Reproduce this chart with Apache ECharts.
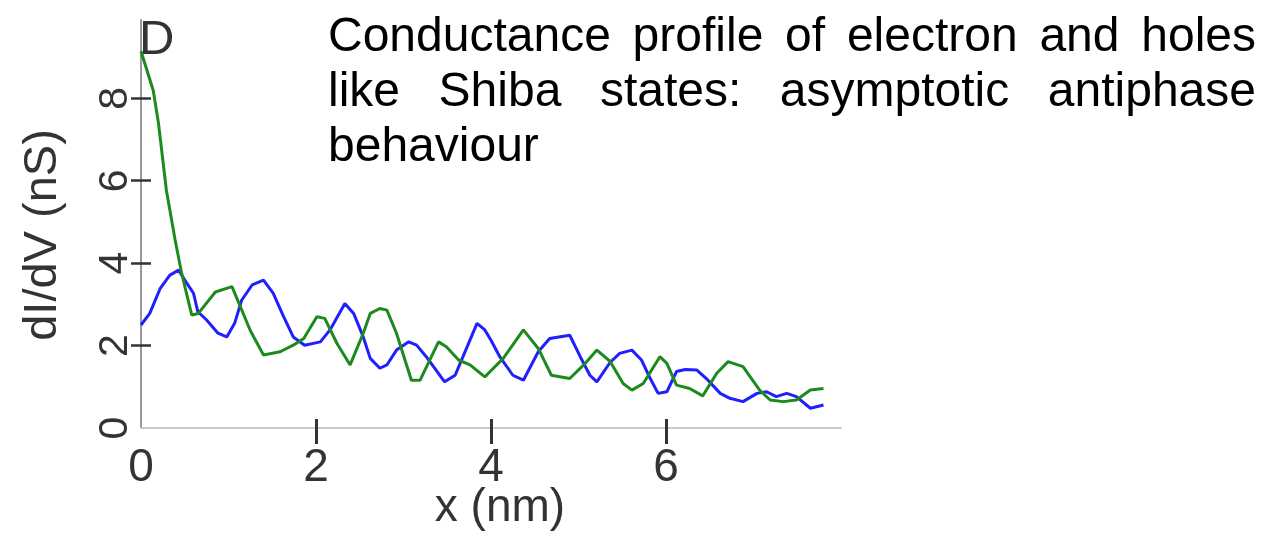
<!DOCTYPE html>
<html>
<head>
<meta charset="utf-8">
<script src="https://cdn.jsdelivr.net/npm/echarts@6/dist/echarts.min.js"></script>
<style>
html,body{margin:0;padding:0;background:#fff}
#chart{width:1264px;height:535px}
</style>
</head>
<body>
<div id="chart"></div>
<script>
// green curve (hole-like)
const greenX = [0,0.14,0.2,0.29,0.39,0.465,0.58,0.655,0.85,1.04,1.25,1.4,1.59,1.74,1.86,2.01,2.1,2.24,2.39,2.54,2.62,2.73,2.81,2.92,3.09,3.19,3.4,3.49,3.63,3.76,3.93,3.99,4.14,4.37,4.54,4.69,4.9,5.06,5.21,5.36,5.51,5.61,5.74,5.93,6.01,6.12,6.27,6.42,6.58,6.71,6.88,7.07,7.19,7.34,7.49,7.65,7.8];
const greenY = [9.14,8.19,7.39,5.77,4.56,3.75,2.74,2.78,3.3,3.43,2.36,1.77,1.85,2.01,2.17,2.7,2.66,2.05,1.53,2.3,2.78,2.9,2.86,2.3,1.16,1.16,2.09,1.97,1.65,1.53,1.24,1.37,1.69,2.38,1.93,1.28,1.2,1.53,1.89,1.62,1.08,0.92,1.08,1.73,1.57,1.04,0.96,0.78,1.33,1.61,1.49,0.92,0.68,0.64,0.68,0.92,0.96];
// blue curve (electron-like)
const blueX = [0,0.1,0.22,0.33,0.43,0.5,0.6,0.65,0.75,0.88,0.98,1.07,1.15,1.27,1.4,1.51,1.63,1.74,1.87,2.05,2.16,2.33,2.43,2.54,2.62,2.73,2.81,2.92,3.06,3.15,3.26,3.47,3.59,3.68,3.84,3.93,4,4.1,4.25,4.37,4.54,4.67,4.9,5.02,5.13,5.21,5.36,5.47,5.61,5.72,5.82,5.91,6.01,6.12,6.22,6.35,6.48,6.62,6.73,6.88,7.04,7.15,7.26,7.38,7.49,7.65,7.8];
const blueY = [2.5,2.78,3.39,3.71,3.83,3.59,3.27,2.82,2.62,2.3,2.21,2.54,3.1,3.47,3.59,3.27,2.7,2.21,2.01,2.09,2.38,3.02,2.78,2.21,1.69,1.45,1.53,1.89,2.09,2.01,1.73,1.12,1.28,1.73,2.54,2.38,2.13,1.73,1.28,1.16,1.85,2.17,2.25,1.73,1.28,1.12,1.59,1.81,1.89,1.65,1.2,0.84,0.88,1.37,1.42,1.41,1.16,0.84,0.72,0.64,0.84,0.88,0.76,0.84,0.76,0.48,0.56];

const xTickLabels = [0,2,4,6];
const yTickLabels = [0,2,4,6,8];

const titleLines = [
  {words:['Conductance','profile','of','electron','and','holes'], justify:true},
  {words:['like','Shiba','states:','asymptotic','antiphase'], justify:true},
  {words:['behaviour'], justify:false}
];

const FONT = '"Liberation Sans", Arial, sans-serif';
const zip = (xs, ys) => xs.map((x, i) => [x, ys[i]]);

// justify title words across the text box
const ctx = document.createElement('canvas').getContext('2d');
ctx.font = '48px ' + FONT;
const boxLeft = 328, boxRight = 1256;
const titleEls = [];
titleLines.forEach((line, li) => {
  const widths = line.words.map(w => ctx.measureText(w).width);
  const total = widths.reduce((a, b) => a + b, 0);
  const gap = line.justify ? (boxRight - boxLeft - total) / (line.words.length - 1) : ctx.measureText(' ').width;
  let x = boxLeft;
  line.words.forEach((w, i) => {
    titleEls.push({
      type: 'text', left: x, top: 14 + li * 55,
      style: {text: w, font: '48px ' + FONT, fill: '#000'}
    });
    x += widths[i] + gap;
  });
});

const chart = echarts.init(document.getElementById('chart'));

chart.setOption({
  animation: false,
  grid: {left: 141, right: 423, top: 20, bottom: 107, containLabel: false, outerBoundsMode: 'none'},
  xAxis: [{
    type: 'value', min: 0, max: 8, interval: 2,
    name: 'x (nm)', nameLocation: 'middle', nameGap: 57, nameMoveOverlap: false,
    nameTextStyle: {color: '#333', fontSize: 46, fontFamily: FONT, padding: [0, 0, 0, 18]},
    axisLine: {lineStyle: {color: '#c8c8c8', width: 2}},
    axisTick: {customValues: [2,4,6], length: 16, lineStyle: {color: '#333', width: 3}},
    axisLabel: {customValues: xTickLabels, margin: 17, color: '#333', fontSize: 46, fontFamily: FONT},
    splitLine: {show: false}
  }, {
    type: 'value', min: 0, max: 8, interval: 2, position: 'bottom',
    axisLine: {show: false},
    axisTick: {customValues: [2,4,6], inside: true, length: 9, lineStyle: {color: '#333', width: 3}},
    axisLabel: {show: false},
    splitLine: {show: false}
  }],
  yAxis: [{
    type: 'value', min: 0, max: 9.9, interval: 2,
    name: 'dI/dV (nS)', nameLocation: 'middle', nameGap: 74,
    nameTextStyle: {color: '#333', fontSize: 47, fontFamily: FONT, padding: [0, 0, 0, -22]},
    axisLine: {lineStyle: {color: '#999', width: 2}},
    axisTick: {customValues: [2,4,6,8], length: 10, lineStyle: {color: '#333', width: 2.5}},
    axisLabel: {customValues: yTickLabels, rotate: 90, margin: 5, color: '#333', fontSize: 41, fontFamily: FONT},
    splitLine: {show: false}
  }, {
    type: 'value', min: 0, max: 9.9, interval: 2, position: 'left',
    axisLine: {show: false},
    axisTick: {customValues: [2,4,6,8], inside: true, length: 10, lineStyle: {color: '#333', width: 2.5}},
    axisLabel: {show: false},
    splitLine: {show: false}
  }],
  graphic: [
    {type: 'text', left: 139, top: 16, z: 0, style: {text: 'D', font: '49px ' + FONT, fill: '#333'}}
  ].concat(titleEls),
  series: [{
    type: 'line', name: 'electron', data: zip(blueX, blueY),
    showSymbol: false, symbol: 'none', z: 3,
    lineStyle: {color: '#1f1fff', width: 3}
  }, {
    type: 'line', name: 'hole', data: zip(greenX, greenY),
    showSymbol: false, symbol: 'none', z: 4,
    lineStyle: {color: '#1d8a1d', width: 3}
  }]
});
</script>
</body>
</html>
